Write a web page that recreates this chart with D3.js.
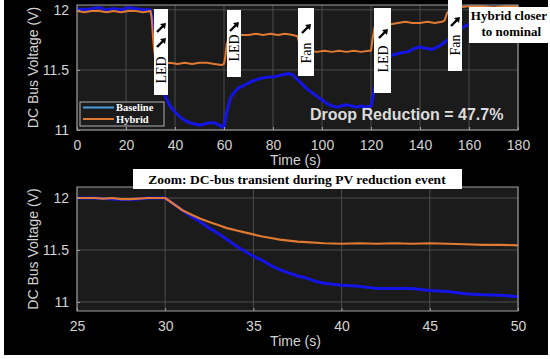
<!DOCTYPE html>
<html>
<head>
<meta charset="utf-8">
<script src="https://cdn.jsdelivr.net/npm/d3@7"></script>
<style>
  body { margin: 0; background: white; }
  svg { display: block; }
</style>
</head>
<body>
<div id="chartdiv"></div>
<script>
/*global d3 */

////////////////////////////////////////
// data
////////////////////////////////////////

var topTimeTicks = [0, 20, 40, 60, 80, 100, 120, 140, 160, 180];
var zoomTimeTicks = [25, 30, 35, 40, 45, 50];
var voltTicks = [11, 11.5, 12];
var voltTickLabels = ["11", "11.5", "12"];
var seriesNames = ["Baseline", "Hybrid"];

var baselineTop = [
    [0, 12.01], [3, 12.0], [6, 12.01], [9, 12.02], [12, 12.0], [15, 12.01],
    [18, 12.0], [21, 12.02], [24, 12.01], [27, 12.0], [30, 12.0], [31, 11.9],
    [32, 11.75], [33, 11.6], [34, 11.47], [35, 11.36], [36, 11.28], [38, 11.2],
    [40, 11.15], [42, 11.11], [44, 11.08], [46, 11.06], [48, 11.05], [50, 11.04],
    [52, 11.05], [54, 11.06], [56, 11.06], [58, 11.04], [60, 11.02], [61, 11.14],
    [62, 11.22], [63, 11.28], [64.5, 11.32], [66, 11.35], [68, 11.37], [70, 11.39],
    [72, 11.41], [75, 11.43], [78, 11.44], [80, 11.44], [82, 11.45], [84, 11.46],
    [86, 11.47], [88, 11.46], [90, 11.42], [92, 11.38], [94, 11.34], [96, 11.31],
    [98, 11.28], [100, 11.25], [102, 11.22], [104, 11.2], [106, 11.19], [108, 11.2],
    [110, 11.21], [112, 11.2], [114, 11.19], [116, 11.2], [118, 11.19], [120, 11.2],
    [121, 11.3], [122, 11.4], [124, 11.5], [126, 11.57], [128, 11.62], [130, 11.63],
    [132, 11.64], [135, 11.65], [138, 11.68], [140, 11.69], [142, 11.68], [145, 11.67],
    [148, 11.7], [150, 11.73], [152, 11.76], [155, 11.82], [158, 11.86], [160, 11.88],
    [163, 11.91], [166, 11.93], [170, 11.95], [175, 11.97], [180, 11.98]
];

var hybridTop = [
    [0, 11.99], [3, 11.98], [6, 11.99], [9, 11.99], [12, 11.98], [15, 11.99],
    [18, 11.98], [21, 11.99], [24, 11.99], [27, 11.98], [30, 11.99], [30.5, 11.93],
    [31, 11.78], [31.5, 11.66], [32, 11.6], [33, 11.56], [35, 11.55], [38, 11.56],
    [41, 11.55], [44, 11.56], [47, 11.55], [50, 11.56], [53, 11.56], [56, 11.55],
    [59, 11.54], [60, 11.55], [60.6, 11.62], [61.2, 11.72], [62, 11.77], [64, 11.78],
    [67, 11.79], [70, 11.79], [73, 11.8], [76, 11.79], [79, 11.8], [82, 11.79],
    [85, 11.8], [88, 11.79], [90, 11.78], [90.8, 11.72], [92, 11.67], [95, 11.66],
    [98, 11.65], [101, 11.66], [104, 11.65], [107, 11.66], [110, 11.65], [113, 11.66],
    [116, 11.65], [119, 11.66], [120, 11.66], [120.6, 11.75], [121.4, 11.85],
    [122.5, 11.88], [125, 11.89], [128, 11.88], [131, 11.89], [134, 11.9], [137, 11.89],
    [140, 11.89], [143, 11.9], [146, 11.89], [149, 11.9], [150, 11.91], [151, 11.97],
    [152.5, 12.01], [155, 12.02], [160, 12.03], [165, 12.03], [170, 12.02],
    [175, 12.03], [180, 12.03]
];

var baselineZoom = [
    [25, 12.0], [26, 12.0], [27, 11.99], [27.5, 11.985], [28, 11.985], [28.5, 11.99],
    [29, 12.0], [30, 12.0], [30.5, 11.94], [31, 11.88], [31.5, 11.82], [32, 11.77],
    [32.5, 11.71], [33, 11.66], [33.5, 11.6], [34, 11.54], [34.5, 11.49], [35, 11.44],
    [35.5, 11.4], [36, 11.35], [36.5, 11.31], [37, 11.28], [37.5, 11.25], [38, 11.23],
    [38.5, 11.2], [39, 11.18], [39.5, 11.17], [40, 11.16], [41, 11.15], [42, 11.13],
    [43, 11.13], [44, 11.13], [45, 11.11], [46, 11.1], [47, 11.08], [48, 11.07],
    [49, 11.065], [50, 11.05]
];

var hybridZoom = [
    [25, 12.0], [25.5, 12.0], [26, 12.0], [26.5, 11.995], [27, 12.0], [27.5, 11.99],
    [28, 11.99], [28.5, 11.995], [29, 12.0], [29.5, 12.0], [30, 12.0], [30.5, 11.94],
    [31, 11.88], [31.5, 11.84], [32, 11.8], [32.5, 11.77], [33, 11.74], [33.5, 11.71],
    [34, 11.69], [34.5, 11.67], [35, 11.65], [35.5, 11.63], [36, 11.615], [36.5, 11.6],
    [37, 11.59], [37.5, 11.58], [38, 11.575], [39, 11.565], [40, 11.56], [41, 11.565],
    [42, 11.56], [43, 11.565], [44, 11.56], [45, 11.565], [46, 11.56], [47, 11.555],
    [48, 11.55], [49, 11.55], [50, 11.545]
];


(function () {
    "use strict";

    var W = 550, H = 359,
        blue = "#1414e6", orange = "#e07a32",
        legendBlue = "#4a9ee0",
        tickcolor = "#d4d4d4",
        sansfont = "'Liberation Sans', Arial, sans-serif",
        seriffont = "'Liberation Serif', 'DejaVu Serif', serif",
        svg, top, zoom;

    svg = d3.select("#chartdiv").append("svg")
        .attr("width", W).attr("height", H);
    svg.append("rect")
        .attr("x", 4).attr("y", 0).attr("width", 544).attr("height", 355)
        .attr("fill", "black");


    ////////////////////////////////////////
    // helpers
    ////////////////////////////////////////

    function makePanel (spec) {
        var p = {}, g;
        p.x = d3.scaleLinear().domain(spec.xdom).range([spec.left, spec.right]);
        p.y = d3.scaleLinear().domain(spec.ydom).range([spec.bottom, spec.top]);
        g = svg.append("g");
        p.g = g;
        g.append("rect")
            .attr("x", spec.left).attr("y", spec.top)
            .attr("width", spec.right - spec.left)
            .attr("height", spec.bottom - spec.top)
            .attr("fill", "#1b1b1b");
        //grid
        g.append("g").selectAll("line").data(spec.xticks).join("line")
            .attr("x1", function (d) { return p.x(d); })
            .attr("x2", function (d) { return p.x(d); })
            .attr("y1", spec.top).attr("y2", spec.bottom)
            .attr("stroke", "#4d4d4d").attr("stroke-width", 1);
        g.append("g").selectAll("line").data(voltTicks).join("line")
            .attr("x1", spec.left).attr("x2", spec.right)
            .attr("y1", function (d) { return p.y(d); })
            .attr("y2", function (d) { return p.y(d); })
            .attr("stroke", "#4d4d4d").attr("stroke-width", 1);
        //clip for the traces
        g.append("clipPath").attr("id", spec.id + "clip")
            .append("rect")
            .attr("x", spec.left).attr("y", spec.top)
            .attr("width", spec.right - spec.left)
            .attr("height", spec.bottom - spec.top);
        p.lines = g.append("g").attr("clip-path", "url(#" + spec.id + "clip)");
        //axes, matlab style ticks pointing inward
        g.append("g")
            .attr("transform", "translate(0," + spec.bottom + ")")
            .call(d3.axisBottom(p.x).tickValues(spec.xticks)
                  .tickSize(-3).tickPadding(10))
            .call(function (a) {
                a.select(".domain").remove();
                a.selectAll("line").attr("stroke", "#999");
                a.selectAll("text").attr("fill", tickcolor)
                    .attr("font-size", 14).attr("font-family", sansfont); });
        g.append("g")
            .attr("transform", "translate(" + spec.left + ",0)")
            .call(d3.axisLeft(p.y).tickValues(voltTicks)
                  .tickFormat(function (d, i) { return voltTickLabels[i]; })
                  .tickSize(-3).tickPadding(8))
            .call(function (a) {
                a.select(".domain").remove();
                a.selectAll("line").attr("stroke", "#999");
                a.selectAll("text").attr("fill", tickcolor)
                    .attr("font-size", 14).attr("font-family", sansfont); });
        g.append("rect")
            .attr("x", spec.left).attr("y", spec.top)
            .attr("width", spec.right - spec.left)
            .attr("height", spec.bottom - spec.top)
            .attr("fill", "none").attr("stroke", "#a0a0a0")
            .attr("stroke-width", 1);
        //axis titles
        g.append("text")
            .attr("x", (spec.left + spec.right) / 2 - 2)
            .attr("y", spec.bottom + 35)
            .attr("text-anchor", "middle")
            .attr("fill", tickcolor).attr("font-size", 14)
            .attr("font-family", sansfont)
            .text("Time (s)");
        g.append("text")
            .attr("transform", "translate(" + (spec.left - 39) + "," +
                  ((spec.top + spec.bottom) / 2) + ") rotate(-90)")
            .attr("text-anchor", "middle")
            .attr("fill", tickcolor).attr("font-size", 14)
            .attr("font-family", sansfont)
            .text("DC Bus Voltage (V)");
        return p;
    }


    function drawTrace (p, data, color, width) {
        var line = d3.line()
            .x(function (d) { return p.x(d[0]); })
            .y(function (d) { return p.y(d[1]); })
            .curve(d3.curveLinear);
        p.lines.append("path")
            .datum(data)
            .attr("d", line)
            .attr("fill", "none")
            .attr("stroke", color)
            .attr("stroke-width", width)
            .attr("stroke-linejoin", "round");
    }


    function drawArrow (g, cx, cy) {
        g.append("line")
            .attr("x1", cx - 4).attr("y1", cy + 4)
            .attr("x2", cx + 2).attr("y2", cy - 2)
            .attr("stroke", "black").attr("stroke-width", 2.4);
        g.append("path")
            .attr("d", "M" + (cx + 5) + "," + (cy - 5) +
                  " L" + (cx - 1) + "," + (cy - 4) +
                  " L" + (cx + 4) + "," + (cy + 1) + " Z")
            .attr("fill", "black");
    }


    //white tag with vertical label and arrows
    function drawTag (spec) {
        var g = svg.append("g");
        g.append("rect")
            .attr("x", spec.x).attr("y", spec.y)
            .attr("width", spec.w).attr("height", spec.h)
            .attr("fill", "white");
        g.append("text")
            .attr("transform", "translate(" + (spec.x + spec.w / 2 + 5) + "," +
                  spec.ty + ") rotate(-90)")
            .attr("text-anchor", "middle")
            .attr("font-family", seriffont).attr("font-size", 14)
            .attr("fill", "black")
            .text(spec.label);
        spec.arrows.forEach(function (a) {
            drawArrow(g, a[0], a[1]); });
    }


    ////////////////////////////////////////
    // top panel: full run
    ////////////////////////////////////////

    top = makePanel({id: "top", left: 77, right: 518, top: 5, bottom: 130,
                     xdom: [0, 180], ydom: [11, 12.04], xticks: topTimeTicks});
    drawTrace(top, baselineTop, blue, 3);
    drawTrace(top, hybridTop, orange, 2);

    drawTag({x: 154, y: 9, w: 14, h: 86, ty: 70, label: "LED",
             arrows: [[161, 28], [161, 43]]});
    drawTag({x: 227, y: 10, w: 14, h: 67, ty: 48, label: "LED",
             arrows: [[234, 27]]});
    drawTag({x: 298, y: 8, w: 16, h: 68, ty: 53, label: "Fan",
             arrows: [[306, 29]]});
    drawTag({x: 374, y: 8, w: 17, h: 85, ty: 59, label: "LED",
             arrows: [[383, 34]]});
    drawTag({x: 448, y: 0, w: 14, h: 71, ty: 45, label: "Fan",
             arrows: [[455, 22]]});

    svg.append("rect")
        .attr("x", 469).attr("y", 7).attr("width", 80).attr("height", 36)
        .attr("fill", "white");
    svg.append("text")
        .attr("x", 547).attr("y", 20).attr("text-anchor", "end")
        .attr("font-family", seriffont).attr("font-size", 13)
        .attr("font-weight", "bold").attr("fill", "black")
        .text("Hybrid closer");
    svg.append("text")
        .attr("x", 541).attr("y", 36).attr("text-anchor", "end")
        .attr("font-family", seriffont).attr("font-size", 13)
        .attr("font-weight", "bold").attr("fill", "black")
        .text("to nominal");

    svg.append("text")
        .attr("x", 310).attr("y", 120)
        .attr("font-family", sansfont).attr("font-size", 16)
        .attr("font-weight", "bold").attr("fill", "#dcdcdc")
        .text("Droop Reduction = 47.7%");

    //legend
    (function () {
        var lg = svg.append("g");
        lg.append("rect")
            .attr("x", 80).attr("y", 102).attr("width", 84).attr("height", 24)
            .attr("fill", "#1b1b1b").attr("stroke", "#b0b0b0");
        [legendBlue, orange].forEach(function (c, i) {
            lg.append("line")
                .attr("x1", 83).attr("x2", 114)
                .attr("y1", 107.5 + i * 11.5).attr("y2", 107.5 + i * 11.5)
                .attr("stroke", c).attr("stroke-width", 2);
            lg.append("text")
                .attr("x", 116).attr("y", 111 + i * 11.5)
                .attr("font-family", seriffont).attr("font-size", 10.5)
                .attr("font-weight", "bold").attr("fill", "white")
                .text(seriesNames[i]);
        });
    }());


    ////////////////////////////////////////
    // bottom panel: zoom on the transient
    ////////////////////////////////////////

    zoom = makePanel({id: "zoom", left: 77, right: 518, top: 187, bottom: 311,
                      xdom: [25, 50], ydom: [10.913, 12.106],
                      xticks: zoomTimeTicks});
    drawTrace(zoom, baselineZoom, blue, 3);
    drawTrace(zoom, hybridZoom, orange, 2.2);

    svg.append("rect")
        .attr("x", 133).attr("y", 169).attr("width", 329).attr("height", 20)
        .attr("fill", "white");
    svg.append("text")
        .attr("x", 297).attr("y", 184).attr("text-anchor", "middle")
        .attr("font-family", seriffont).attr("font-size", 13.5)
        .attr("font-weight", "bold").attr("fill", "black")
        .text("Zoom: DC-bus transient during PV reduction event");
}());
</script>
</body>
</html>
